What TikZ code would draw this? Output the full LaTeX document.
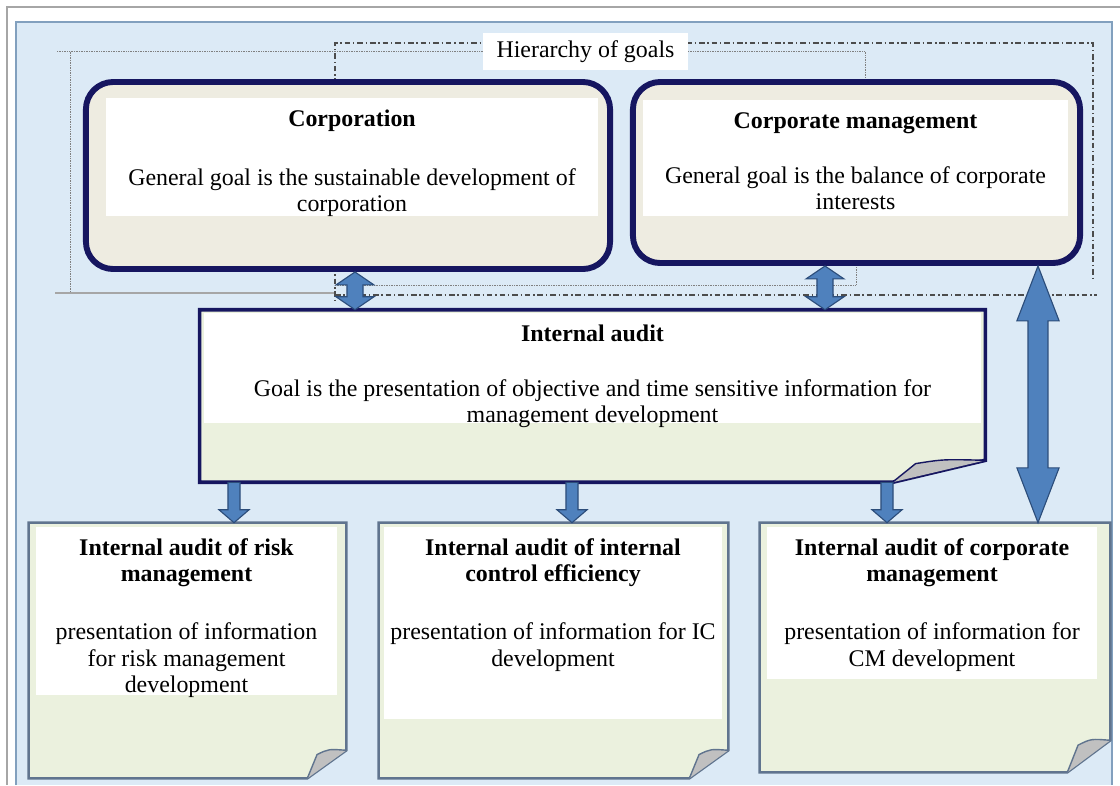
\documentclass[tikz,border=0pt]{standalone}
\usepackage{fontspec}
\setmainfont{Liberation Serif}
\usetikzlibrary{calc}

\definecolor{paneblue}{RGB}{220,234,246}
\definecolor{paneline}{RGB}{130,160,190}
\definecolor{navy}{RGB}{22,22,96}
\definecolor{sand}{RGB}{238,236,225}
\definecolor{sheetgreen}{RGB}{235,241,222}
\definecolor{sheetline}{RGB}{96,116,142}
\definecolor{arrowblue}{RGB}{79,129,189}
\definecolor{arrowdark}{RGB}{44,77,122}
\definecolor{flapgray}{RGB}{192,192,192}

\tikzset{
  goalbox/.style={draw=navy, line width=4.2pt, rounded corners=0.68cm, fill=sand, inner sep=0pt},
  textpatch/.style={fill=white, inner xsep=0pt, inner ysep=5pt, anchor=north},
  sheetnode/.style={inner sep=0pt},
  fat/.style={fill=arrowblue, draw=arrowdark, line width=0.8pt},
  dotline/.style={draw=gray, line width=0.7pt, dash pattern=on 0.5pt off 0.7pt},
  dashdot/.style={draw=black!70, line width=0.9pt, dash pattern=on 4pt off 2pt on 1pt off 2pt},
}

% white text block, top aligned: height, width, text
\newcommand{\patch}[3]{\parbox[t][#1][t]{#2}{\centering\rule{0pt}{15pt}#3}}

% double headed block arrow: from, to, shaft half width, head half width, head length
\newcommand{\twoway}[5]{%
  \path[fat] let \p1=#1, \p2=#2 in
    (\x1,\y1) -- (\x1+#4,\y1-#5) -- (\x1+#3,\y1-#5) -- (\x1+#3,\y2+#5)
    -- (\x1+#4,\y2+#5) -- (\x1,\y2) -- (\x1-#4,\y2+#5) -- (\x1-#3,\y2+#5)
    -- (\x1-#3,\y1-#5) -- (\x1-#4,\y1-#5) -- cycle;
}
% single headed block arrow pointing down
\newcommand{\oneway}[5]{%
  \path[fat] let \p1=#1, \p2=#2 in
    (\x1-#3,\y1) -- (\x1+#3,\y1) -- (\x1+#3,\y2+#5) -- (\x1+#4,\y2+#5)
    -- (\x1,\y2) -- (\x1-#4,\y2+#5) -- (\x1-#3,\y2+#5) -- cycle;
}
% sheet of paper with a turned-up corner: node, flap width, flap height, border
\newcommand{\sheet}[4]{%
  \filldraw[#4, fill=sheetgreen] (#1.north west) -- (#1.north east)
    -- ($(#1.south east)+(0,-#3)$) -- ($(#1.south east)+(-#2,0)$)
    -- (#1.south west) -- cycle;
  \filldraw[#4, fill=flapgray, line width=1pt] ($(#1.south east)+(0,-#3)$)
    .. controls ($(#1.south east)+({-0.45*#2},{-1.05*#3})$) .. ($(#1.south east)+({-0.75*#2},{-0.85*#3})$)
    -- ($(#1.south east)+(-#2,0)$);
}

\begin{document}
\begin{tikzpicture}[x=0.025cm, y=-0.025cm, font=\fontsize{17}{18.9}\selectfont]
\useasboundingbox (0,0) rectangle (1120,785);

% page edge and blue pane
\draw[gray!70, line width=1pt] (1120,7) -- (7,7) -- (7,785);
\fill[paneblue] (16,22) rectangle (1112,785);
\draw[paneline, line width=2pt] (16,785) -- (16,22) -- (1112,22) -- (1112,785);

%% GOAL HIERARCHY frames
\draw[dotline] (57,51.5) -- (865,51.5) -- (865,84);
\draw[dotline] (70,51.5) -- (70,293);
\draw[gray!70, line width=0.8pt] (55,293) -- (335,293);
\draw[dotline] (335,285) -- (856,285) -- (856,263);
\draw[dashdot] (335,84) -- (335,43) -- (1093,43) -- (1093,278);
\draw[dashdot] (335,266) -- (335,300);
\draw[dashdot] (335,295) -- (1097,295);

%% TOP GOALS
\node[goalbox, minimum width=13.1cm, minimum height=4.675cm] (corp) at (348,175.5) {};
\node[goalbox, minimum width=11.175cm, minimum height=4.525cm] (cm) at (856.5,172.5) {};

\node[textpatch] (corptext) at (352,98)
  {\patch{2.6cm}{12.3cm}{\textbf{Corporation}\\[23pt]General goal is the sustainable development of\\corporation}};
\node[textpatch] (cmtext) at (855.5,100)
  {\patch{2.55cm}{10.625cm}{\textbf{Corporate management}\\[20pt]General goal is the balance of corporate\\interests}};

%% INTERNAL AUDIT
\node[sheetnode, minimum width=19.625cm, minimum height=4.3cm] (ia) at (592.5,396) {};
\sheet{ia}{93}{22}{draw=navy, line width=2.6pt}
\node[textpatch] (iatext) at (592.5,313)
  {\patch{2.4cm}{19.425cm}{\textbf{Internal audit}\\[20pt]Goal is the presentation of objective and time sensitive information for\\management development}};

%% AUDIT AREAS
\node[sheetnode, minimum width=7.925cm, minimum height=6.375cm] (rm) at (187.5,650.5) {};
\node[sheetnode, minimum width=8.725cm, minimum height=6.375cm] (ic) at (553.5,650.5) {};
\node[sheetnode, minimum width=8.75cm, minimum height=6.225cm] (cmaudit) at (935,647.5) {};
\sheet{rm}{39}{28}{draw=sheetline, line width=1.8pt}
\sheet{ic}{39}{28}{draw=sheetline, line width=1.8pt}
\sheet{cmaudit}{43}{32}{draw=sheetline, line width=1.8pt}

\node[textpatch] (rmtext) at (186.5,527)
  {\patch{3.85cm}{7.525cm}{\textbf{Internal audit of risk\\management}\\[22pt]presentation of information\\for risk management\\development}};
\node[textpatch] (ictext) at (553,527)
  {\patch{4.45cm}{8.45cm}{\textbf{Internal audit of internal\\control efficiency}\\[22pt]presentation of information for IC\\development}};
\node[textpatch] (cmaudittext) at (932,527)
  {\patch{3.45cm}{8.25cm}{\textbf{Internal audit of corporate\\management}\\[22pt]presentation of information for\\CM development}};

%% ARROWS
\twoway{($(corp.south)+(7,0)$)}{(ia.north)}{5.7pt}{13.5pt}{9.2pt}
\twoway{($(cm.south)+(-31.5,0)$)}{(ia.north)}{5.7pt}{13.5pt}{9.2pt}
\twoway{($(cm.south)+(181.5,0)$)}{(cmaudit.north)}{7.1pt}{15pt}{39pt}
\oneway{($(ia.south)+(-358.5,0)$)}{(rm.north)}{4.3pt}{10.7pt}{9.2pt}
\oneway{($(ia.south)+(-20.5,0)$)}{(ic.north)}{4.3pt}{10.7pt}{9.2pt}
\oneway{($(ia.south)+(294.5,0)$)}{(cmaudit.north)}{4.3pt}{10.7pt}{9.2pt}

\node[fill=white, inner sep=0pt, minimum width=5.125cm, minimum height=0.925cm] (goals) at (585.5,51.5) {Hierarchy of goals};
\end{tikzpicture}
\end{document}
